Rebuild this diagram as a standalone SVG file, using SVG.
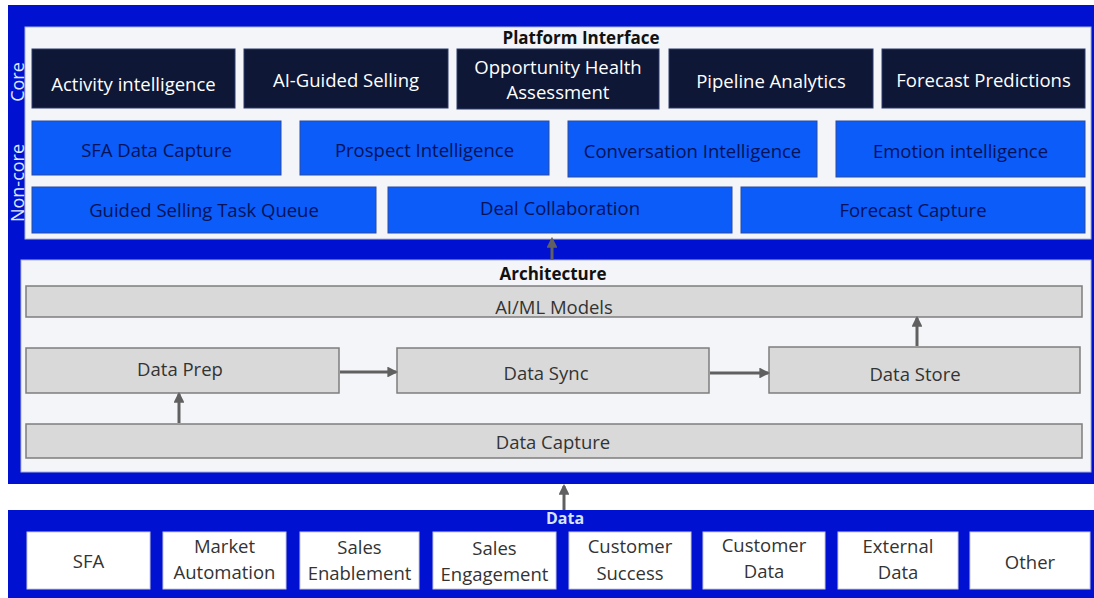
<svg xmlns="http://www.w3.org/2000/svg" width="1094" height="598" viewBox="0 0 1094 598">
<defs>
<style>
text{font-family:"Open Sans","Liberation Sans",sans-serif;}
.frame{fill:#0011d2;}
.panel{fill:#f4f5f8;stroke:#aab3d8;stroke-width:1;}
.core rect{fill:#0e1735;stroke:#2a3a6a;stroke-width:1;}
.core text{fill:#ffffff;font-size:18.5px;text-anchor:middle;}
.noncore rect{fill:#0b5cf8;stroke:#2a4aa0;stroke-width:1;}
.noncore text{fill:#051258;font-size:18.5px;font-weight:500;text-anchor:middle;}
.arch rect{fill:#d9d9d9;stroke:#7d7d7d;stroke-width:1.5;}
.arch text{fill:#333333;font-size:18.5px;text-anchor:middle;}
.src rect{fill:#ffffff;stroke:#c8c8d8;stroke-width:1;}
.src text{fill:#333333;font-size:18.5px;text-anchor:middle;}
.title{font-size:17px;font-weight:bold;fill:#111111;text-anchor:middle;}
.side{font-size:18px;fill:#dfe7ff;text-anchor:middle;}
.conn{stroke:#606060;stroke-width:3;fill:none;marker-end:url(#ah);}
</style>
<marker id="ah" viewBox="0 0 10 10" refX="8" refY="5" markerWidth="3.6" markerHeight="3.6" orient="auto" markerUnits="strokeWidth">
<path d="M0,0 L10,5 L0,10 z" fill="#606060"/>
</marker>
</defs>
<rect width="1094" height="598" fill="#ffffff"/>
<!-- outer frames -->
<rect class="frame" x="8" y="5" width="1086" height="479"/>
<rect class="frame" x="8" y="510" width="1086" height="88"/>
<g id="platform-panel">
<rect class="panel" x="25" y="27" width="1066" height="212"/>
<text class="title" x="581" y="44">Platform Interface</text>
<text class="side" transform="translate(24,82) rotate(-90)">Core</text>
<text class="side" transform="translate(24,183) rotate(-90)">Non-core</text>
</g>
<g id="core-activity" class="core"><rect x="32" y="49" width="203" height="59"/><text x="133.5" y="91">Activity intelligence</text></g>
<g id="core-aiguided" class="core"><rect x="244" y="49" width="204" height="59"/><text x="346" y="87">AI-Guided Selling</text></g>
<g id="core-opportunity" class="core"><rect x="457" y="49" width="202" height="60"/><text x="558" y="74">Opportunity Health</text><text x="558" y="99">Assessment</text></g>
<g id="core-pipeline" class="core"><rect x="669" y="49" width="204" height="59"/><text x="771" y="88">Pipeline Analytics</text></g>
<g id="core-forecast" class="core"><rect x="882" y="49" width="203" height="59"/><text x="983.5" y="87">Forecast Predictions</text></g>
<g id="nc-sfa" class="noncore"><rect x="32" y="121" width="249" height="54"/><text x="156.5" y="157">SFA Data Capture</text></g>
<g id="nc-prospect" class="noncore"><rect x="300" y="121" width="249" height="54"/><text x="424.5" y="157">Prospect Intelligence</text></g>
<g id="nc-conversation" class="noncore"><rect x="568" y="121" width="249" height="56"/><text x="692.5" y="158">Conversation Intelligence</text></g>
<g id="nc-emotion" class="noncore"><rect x="836" y="121" width="249" height="56"/><text x="960.5" y="158">Emotion intelligence</text></g>
<g id="nc-taskqueue" class="noncore"><rect x="32" y="187" width="344" height="46"/><text x="204" y="217">Guided Selling Task Queue</text></g>
<g id="nc-deal" class="noncore"><rect x="388" y="187" width="344" height="46"/><text x="560" y="215">Deal Collaboration</text></g>
<g id="nc-forecastcap" class="noncore"><rect x="741" y="187" width="344" height="46"/><text x="913" y="217">Forecast Capture</text></g>
<g id="arch-panel">
<rect class="panel" x="21" y="260" width="1070" height="212"/>
<text class="title" x="553" y="280">Architecture</text>
</g>
<g id="aiml" class="arch"><rect x="26" y="286" width="1056" height="31"/><text x="554" y="314">AI/ML Models</text></g>
<g id="dataprep" class="arch"><rect x="26" y="348" width="313" height="45"/><text x="180" y="376">Data Prep</text></g>
<g id="datasync" class="arch"><rect x="397" y="348" width="312" height="45"/><text x="546" y="380">Data Sync</text></g>
<g id="datastore" class="arch"><rect x="769" y="347" width="311" height="46"/><text x="915" y="381">Data Store</text></g>
<g id="datacapture" class="arch"><rect x="26" y="424" width="1056" height="34"/><text x="553" y="449">Data Capture</text></g>
<g id="data-panel">
<text x="565" y="524" style="font-size:16px;font-weight:bold;fill:#d6e4ff;text-anchor:middle;">Data</text>
</g>
<g id="src-sfa" class="src"><rect x="27" y="532" width="123" height="57"/><text x="88.5" y="568">SFA</text></g>
<g id="src-market" class="src"><rect x="163" y="532" width="123" height="57"/><text x="224.5" y="553">Market</text><text x="224.5" y="579">Automation</text></g>
<g id="src-enable" class="src"><rect x="300" y="532" width="119" height="57"/><text x="359.5" y="554">Sales</text><text x="359.5" y="580">Enablement</text></g>
<g id="src-engage" class="src"><rect x="433" y="532" width="123" height="57"/><text x="494.5" y="555">Sales</text><text x="494.5" y="581">Engagement</text></g>
<g id="src-success" class="src"><rect x="569" y="532" width="122" height="57"/><text x="630" y="553">Customer</text><text x="630" y="580">Success</text></g>
<g id="src-custdata" class="src"><rect x="703" y="532" width="122" height="57"/><text x="764" y="552">Customer</text><text x="764" y="578">Data</text></g>
<g id="src-external" class="src"><rect x="838" y="532" width="120" height="57"/><text x="898" y="553">External</text><text x="898" y="579">Data</text></g>
<g id="src-other" class="src"><rect x="970" y="532" width="120" height="57"/><text x="1030" y="569">Other</text></g>
<g id="connectors">
<path class="conn" d="M564,510 L564,486"/>
<path class="conn" d="M552,260 L552,239"/>
<path class="conn" d="M179,423 L179,394"/>
<path class="conn" d="M340,372 L396,372"/>
<path class="conn" d="M710,373 L768,373"/>
<path class="conn" d="M917,346 L917,318"/>
</g>
</svg>
